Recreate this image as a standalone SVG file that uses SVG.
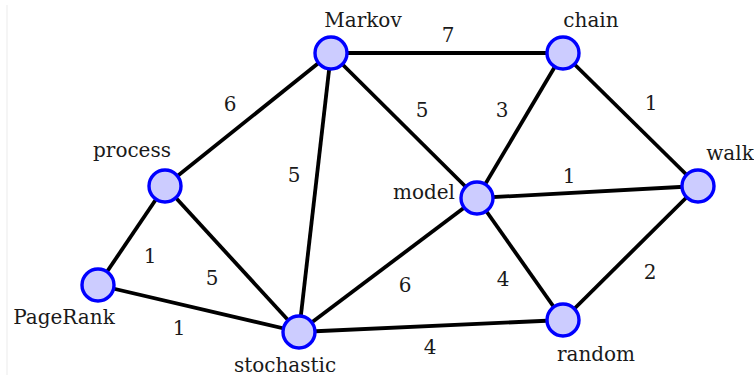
<svg xmlns="http://www.w3.org/2000/svg" width="754" height="379" viewBox="0 0 754 379">
<style>
.e{stroke:#000;stroke-width:3.8;fill:none;stroke-linecap:butt}
.n circle{fill:#ccccff;stroke:#0000ff;stroke-width:3.4}
.lbl{font-family:"DejaVu Serif",serif;font-size:20px;text-anchor:middle;fill:#1a1a1a}
.w{font-family:"DejaVu Serif",serif;font-size:20px;text-anchor:middle;fill:#1a1a1a}
</style>
<rect width="754" height="379" fill="#fff"/>
<line x1="7" y1="5" x2="7" y2="375" stroke="#ebebeb" stroke-width="1"/>
<g id="connectors">
<line class="e" x1="331" y1="53" x2="563" y2="53"/>
<line class="e" x1="331" y1="53" x2="165" y2="186"/>
<line class="e" x1="331" y1="53" x2="477" y2="198"/>
<line class="e" x1="331" y1="53" x2="299" y2="332"/>
<line class="e" x1="563" y1="53" x2="477" y2="198"/>
<line class="e" x1="563" y1="53" x2="698" y2="186"/>
<line class="e" x1="165" y1="186" x2="98" y2="285"/>
<line class="e" x1="165" y1="186" x2="299" y2="332"/>
<line class="e" x1="477" y1="198" x2="698" y2="186"/>
<line class="e" x1="477" y1="198" x2="299" y2="332"/>
<line class="e" x1="477" y1="198" x2="563" y2="320"/>
<line class="e" x1="698" y1="186" x2="563" y2="320"/>
<line class="e" x1="98" y1="285" x2="299" y2="332"/>
<line class="e" x1="299" y1="332" x2="563" y2="320"/>
<text class="w" x="448" y="42">7</text>
<text class="w" x="230" y="111">6</text>
<text class="w" x="422" y="117">5</text>
<text class="w" x="502" y="117">3</text>
<text class="w" x="651" y="110">1</text>
<text class="w" x="294" y="182">5</text>
<text class="w" x="569" y="183">1</text>
<text class="w" x="150" y="263">1</text>
<text class="w" x="212" y="285">5</text>
<text class="w" x="405" y="292">6</text>
<text class="w" x="503" y="286">4</text>
<text class="w" x="650" y="279">2</text>
<text class="w" x="179" y="335">1</text>
<text class="w" x="430" y="354">4</text>
</g>
<g id="Markov" class="n"><circle cx="331" cy="53" r="16"/><text class="lbl" x="363" y="27">Markov</text></g>
<g id="chain" class="n"><circle cx="563" cy="53" r="16"/><text class="lbl" x="591" y="27">chain</text></g>
<g id="process" class="n"><circle cx="165" cy="186" r="16"/><text class="lbl" x="132" y="157">process</text></g>
<g id="model" class="n"><circle cx="477" cy="198" r="16"/><text class="lbl" x="424" y="199">model</text></g>
<g id="walk" class="n"><circle cx="698" cy="186" r="16"/><text class="lbl" x="730" y="160">walk</text></g>
<g id="PageRank" class="n"><circle cx="98" cy="285" r="16"/><text class="lbl" x="64" y="324">PageRank</text></g>
<g id="stochastic" class="n"><circle cx="299" cy="332" r="16"/><text class="lbl" x="285" y="372">stochastic</text></g>
<g id="random" class="n"><circle cx="563" cy="320" r="16"/><text class="lbl" x="596" y="361">random</text></g>
</svg>
